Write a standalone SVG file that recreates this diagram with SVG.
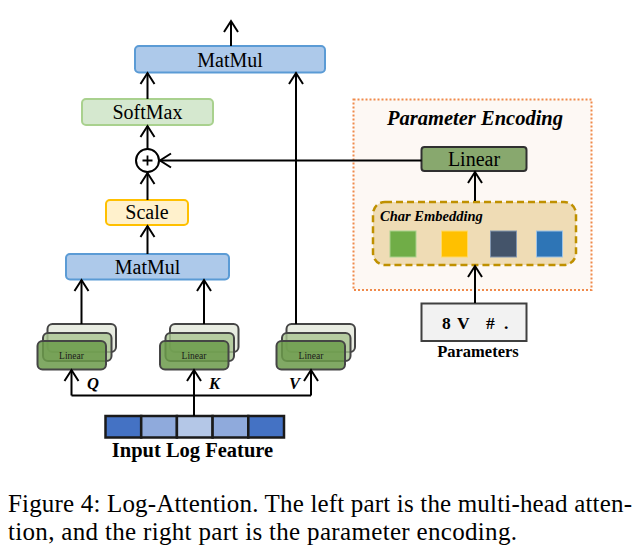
<svg xmlns="http://www.w3.org/2000/svg" width="639" height="552" viewBox="0 0 639 552" font-family="'Liberation Serif', 'DejaVu Serif', serif">
<defs>
<marker id="arr" markerUnits="userSpaceOnUse" viewBox="-13 -9 15 18" refX="0" refY="0" markerWidth="15" markerHeight="18" orient="auto">
<path d="M-11,-7 L0,0 L-11,7" fill="none" stroke="#000" stroke-width="2"/>
</marker>
</defs>
<style>
text{font-family:'Liberation Serif','DejaVu Serif',serif;fill:#000}
.conn{stroke:#000;stroke-width:2;fill:none}
.arrow{marker-end:url(#arr)}
.mm{fill:#adc9ea;stroke:#5b9bd5;stroke-width:2}
.lbl20{font-size:20px;text-anchor:middle}
.back{fill:#e8ece1;stroke:#454545;stroke-width:2}
.mid{fill:#a8c490;fill-opacity:0.8;stroke:#454545;stroke-width:2}
.front{fill:#6b9a4a;fill-opacity:0.85;stroke:#454545;stroke-width:2}
.lin{font-size:9.5px;text-anchor:middle;fill:#1a1a1a}
.qkv{font-size:16.5px;font-weight:bold;font-style:italic}
.cell{stroke:#1a1a1a;stroke-width:2.5}
.cap{font-size:25px}
</style>

<g id="matmul-top">
<rect class="mm" x="135" y="46" width="190" height="26.5" rx="4"/>
<text class="lbl20" x="230" y="66.5">MatMul</text>
</g>

<g id="softmax">
<rect x="82" y="99" width="131" height="26" rx="4" fill="#d5e8cf" stroke="#a9d18e" stroke-width="2"/>
<text class="lbl20" x="147.5" y="119">SoftMax</text>
</g>

<g id="add">
<circle cx="147.5" cy="160.5" r="11.5" fill="#fff" stroke="#000" stroke-width="2"/>
<path d="M142.5,160.5 H152.5 M147.5,155.5 V165.5" stroke="#000" stroke-width="1.8"/>
</g>

<g id="scale">
<rect x="106" y="200" width="82" height="25" rx="4" fill="#fff1cc" stroke="#ffc000" stroke-width="2"/>
<text class="lbl20" x="147" y="219">Scale</text>
</g>

<g id="matmul-bottom">
<rect class="mm" x="66" y="254" width="163" height="25.5" rx="4"/>
<text class="lbl20" x="147.5" y="273.5">MatMul</text>
</g>

<g id="linear-q">
<rect class="back" x="47.5" y="324" width="68.5" height="28" rx="5"/>
<rect class="mid" x="43" y="333" width="68.5" height="28" rx="5"/>
<rect class="front" x="37.5" y="341" width="68.5" height="28.5" rx="5"/>
<text class="lin" x="71.5" y="359">Linear</text>
<text class="qkv" x="87" y="389">Q</text>
</g>

<g id="linear-k">
<rect class="back" x="170" y="324" width="68.5" height="28" rx="5"/>
<rect class="mid" x="165.5" y="333" width="68.5" height="28" rx="5"/>
<rect class="front" x="160" y="341" width="68.5" height="28.5" rx="5"/>
<text class="lin" x="194" y="359">Linear</text>
<text class="qkv" x="209" y="389">K</text>
</g>

<g id="linear-v">
<rect class="back" x="286.5" y="324" width="68.5" height="28" rx="5"/>
<rect class="mid" x="282" y="333" width="68.5" height="28" rx="5"/>
<rect class="front" x="276.5" y="341" width="68.5" height="28.5" rx="5"/>
<text class="lin" x="311" y="359">Linear</text>
<text class="qkv" x="289" y="389">V</text>
</g>

<g id="input-log-feature">
<rect class="cell" x="105.5" y="416" width="35.7" height="21.5" fill="#4472c4"/>
<rect class="cell" x="141.2" y="416" width="35.7" height="21.5" fill="#8faadc"/>
<rect class="cell" x="176.9" y="416" width="35.7" height="21.5" fill="#b4c7e7"/>
<rect class="cell" x="212.6" y="416" width="35.7" height="21.5" fill="#8faadc"/>
<rect class="cell" x="248.3" y="416" width="35.7" height="21.5" fill="#4472c4"/>
<text x="192.5" y="456.5" font-size="20.5" font-weight="bold" text-anchor="middle">Input Log Feature</text>
</g>

<g id="parameter-encoding">
<rect x="353.5" y="99.5" width="238" height="190.5" fill="#fdf8f4" stroke="#f08a4b" stroke-width="2" stroke-dasharray="2,2"/>
<text x="475" y="125" font-size="20.5" font-weight="bold" font-style="italic" text-anchor="middle">Parameter Encoding</text>
</g>

<g id="linear-param">
<rect x="421.5" y="147" width="105" height="24" rx="3" fill="#88a86e" stroke="#303030" stroke-width="2"/>
<text class="lbl20" x="474" y="166">Linear</text>
</g>

<g id="char-embedding">
<rect x="373" y="202" width="203" height="63" rx="12" fill="#efdcb5" stroke="#bf9000" stroke-width="2.5" stroke-dasharray="7,4"/>
<text x="380" y="221" font-size="14.5" font-weight="bold" font-style="italic">Char Embedding</text>
<rect x="390" y="231" width="26" height="26" fill="#70ad47" stroke="#a9d18e" stroke-width="1"/>
<rect x="441.5" y="231" width="26" height="26" fill="#ffc000" stroke="#ffd966" stroke-width="1"/>
<rect x="490.5" y="231" width="26" height="26" fill="#44546a" stroke="#8497b0" stroke-width="1"/>
<rect x="536.5" y="231" width="26" height="26" fill="#2e75b6" stroke="#9dc3e6" stroke-width="1"/>
</g>

<g id="parameters">
<rect x="421.5" y="303.5" width="105" height="37.5" fill="#f2f2f2" stroke="#404040" stroke-width="2"/>
<text x="442 457 486 504" y="328.5" font-size="17.5" font-weight="bold">8V#.</text>
<text x="478" y="357" font-size="16.5" font-weight="bold" text-anchor="middle">Parameters</text>
</g>

<g id="connectors">
<line class="conn arrow" x1="231" y1="46" x2="231" y2="21"/>
<line class="conn arrow" x1="147.5" y1="99" x2="147.5" y2="73"/>
<line class="conn arrow" x1="147.5" y1="149" x2="147.5" y2="126"/>
<line class="conn arrow" x1="147.5" y1="200" x2="147.5" y2="173"/>
<line class="conn arrow" x1="147.5" y1="254" x2="147.5" y2="226"/>
<line class="conn arrow" x1="421.5" y1="160.5" x2="160" y2="160.5"/>
<line class="conn arrow" x1="296" y1="324" x2="296" y2="73"/>
<line class="conn arrow" x1="81.5" y1="324" x2="81.5" y2="280"/>
<line class="conn arrow" x1="204" y1="324" x2="204" y2="280"/>
<polyline class="conn" points="71.5,395.5 311,395.5"/>
<line class="conn arrow" x1="71.5" y1="395.5" x2="71.5" y2="370"/>
<line class="conn arrow" x1="311" y1="395.5" x2="311" y2="370"/>
<line class="conn arrow" x1="194" y1="416" x2="194" y2="370"/>
<line class="conn arrow" x1="475" y1="201" x2="475" y2="172"/>
<line class="conn arrow" x1="475" y1="303" x2="475" y2="266"/>
</g>

<g id="caption">
<text class="cap" x="8" y="511.5" textLength="624" lengthAdjust="spacing">Figure 4: Log-Attention. The left part is the multi-head atten-</text>
<text class="cap" x="8" y="540" textLength="509" lengthAdjust="spacing">tion, and the right part is the parameter encoding.</text>
</g>
</svg>
